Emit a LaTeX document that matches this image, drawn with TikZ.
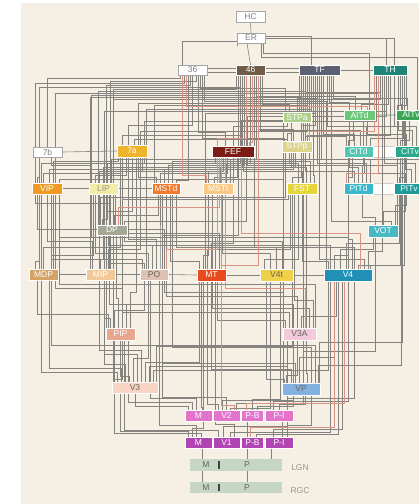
\documentclass[tikz,border=0pt]{standalone}
\usepackage{fontspec}
\setmainfont{Liberation Sans}
\definecolor{paper}{HTML}{F6F0E4}
\definecolor{linegray}{HTML}{85837F}
\definecolor{linered}{HTML}{DA9282}
\definecolor{c46}{HTML}{6E5C48}
\definecolor{cTF}{HTML}{5D6072}
\definecolor{cTH}{HTML}{1E8478}
\definecolor{cSTPa}{HTML}{ACD08A}
\definecolor{cAITd}{HTML}{6CC878}
\definecolor{cAITv}{HTML}{3AA655}
\definecolor{c7a}{HTML}{F0B42C}
\definecolor{cFEF}{HTML}{7C1C16}
\definecolor{cSTPp}{HTML}{DCD48A}
\definecolor{cCITd}{HTML}{52C8B4}
\definecolor{cCITv}{HTML}{2AA88C}
\definecolor{cVIP}{HTML}{F09A22}
\definecolor{cLIP}{HTML}{F2ECA8}
\definecolor{cMSTd}{HTML}{F07A2C}
\definecolor{cMSTl}{HTML}{F8C884}
\definecolor{cFST}{HTML}{E6D63A}
\definecolor{cPITd}{HTML}{3AB8CC}
\definecolor{cPITv}{HTML}{1F9A9A}
\definecolor{cDP}{HTML}{A4A696}
\definecolor{cVOT}{HTML}{48B8C4}
\definecolor{cMDP}{HTML}{D4A264}
\definecolor{cMIP}{HTML}{F2C896}
\definecolor{cPO}{HTML}{DDC2B2}
\definecolor{cMT}{HTML}{E84A1E}
\definecolor{cVt}{HTML}{F0D048}
\definecolor{cVf}{HTML}{2090B6}
\definecolor{cPIP}{HTML}{E8A68E}
\definecolor{cVtA}{HTML}{F2CADB}
\definecolor{cVth}{HTML}{F8D4C4}
\definecolor{cVP}{HTML}{84B2E0}
\definecolor{cVtwo}{HTML}{E274CC}
\definecolor{cVone}{HTML}{B044B2}
\definecolor{cLGN}{HTML}{C6D6C6}
\definecolor{tdark}{HTML}{6A6258}
\definecolor{tgray}{HTML}{9A948A}
\pgfdeclarelayer{paperlayer}
\pgfdeclarelayer{lines}
\pgfsetlayers{paperlayer,lines,main}
\newcommand\bx[7]{\node[box,fill=#5,text=#6,minimum width=#3pt,minimum height=#4pt] (#1) at (#2) {#7};}
\begin{document}
\begin{tikzpicture}[x=1pt,y=-1pt,
  box/.style={rectangle,inner sep=0pt,draw=white,line width=0.3pt,font=\fontsize{8.5}{9}\selectfont},
  wbox/.style={box,fill=white,draw=gray!70,text=gray},
  ln/.style={draw=linegray,line width=0.6pt},
  rl/.style={draw=linered,line width=0.6pt},
  lbl/.style={inner sep=0pt,font=\fontsize{8.5}{9}\selectfont}]
\useasboundingbox (0,0) rectangle (419,504);
\clip (0,0) rectangle (419,504);
\begin{pgfonlayer}{paperlayer}
\fill[white] (0,0) rectangle (419,504);
\fill[paper] (21,3) rectangle (419,504);
\end{pgfonlayer}
% nodes
\node[wbox,minimum width=29pt,minimum height=11pt] (HC) at (250.5,16.5) {HC};
\node[wbox,minimum width=28pt,minimum height=10pt] (ER) at (251,38) {ER};
\node[wbox,minimum width=29pt,minimum height=10pt] (A36) at (192.5,70) {36};
\bx{A46}{250.5,70}{29}{10}{c46}{white}{46}
\bx{TF}{319.5,70}{41}{10}{cTF}{white}{TF}
\bx{TH}{390,70}{34}{10}{cTH}{white}{TH}
\bx{STPa}{297,117.5}{28}{10}{cSTPa}{white}{STPa}
\bx{AITd}{359.5,115}{31}{10}{cAITd}{white}{AITd}
\bx{AITv}{411,115}{30}{10}{cAITv}{white}{AITv}
\node[wbox,minimum width=29pt,minimum height=10pt] (A7b) at (47.5,152) {7b};
\bx{A7a}{132,151}{30}{12}{c7a}{white}{7a}
\bx{FEF}{233,151.5}{42}{11}{cFEF}{white}{FEF}
\bx{STPp}{297,146.5}{30}{11}{cSTPp}{white}{STPp}
\bx{CITd}{358.5,151.5}{29}{11}{cCITd}{white}{CITd}
\bx{CITv}{410,151.5}{30}{11}{cCITv}{white}{CITv}
\bx{VIP}{47,188.5}{30}{11}{cVIP}{white}{VIP}
\bx{LIP}{103.5,188.5}{29}{11}{cLIP}{tgray}{LIP}
\bx{MSTd}{166,188.5}{28}{11}{cMSTd}{white}{MSTd}
\bx{MSTl}{218,188.5}{30}{11}{cMSTl}{white}{MSTl}
\bx{FST}{302,188.5}{30}{11}{cFST}{white}{FST}
\bx{PITd}{358.5,188.5}{29}{11}{cPITd}{white}{PITd}
\bx{PITv}{409,188.5}{30}{11}{cPITv}{white}{PITv}
\bx{DP}{112,230}{30}{10}{cDP}{white}{DP}
\bx{VOT}{383,231}{30}{12}{cVOT}{white}{VOT}
\bx{MDP}{43.5,274.5}{29}{11}{cMDP}{white}{MDP}
\bx{MIP}{100.5,274.5}{29}{11}{cMIP}{white}{MIP}
\bx{PO}{154,274.5}{28}{11}{cPO}{tdark}{PO}
\bx{MT}{211.5,275}{29}{12}{cMT}{white}{MT}
\bx{V4t}{276.5,275}{33}{12}{cVt}{tdark}{V4t}
\bx{V4}{348,275}{48}{12}{cVf}{white}{V4}
\bx{PIP}{120.5,334}{29}{12}{cPIP}{white}{PIP}
\bx{V3A}{299.5,334}{33}{12}{cVtA}{tdark}{V3A}
\bx{V3}{135,387.5}{46}{11}{cVth}{tdark}{V3}
\bx{VP}{301,389}{38}{12}{cVP}{tdark}{VP}
\bx{V2M}{198.5,415.5}{27}{11}{cVtwo}{white}{M}
\bx{V2}{226.5,415.5}{27}{11}{cVtwo}{white}{V2}
\bx{V2PB}{252.5,415.5}{22}{11}{cVtwo}{white}{P-B}
\bx{V2PI}{279,415.5}{28}{11}{cVtwo}{white}{P-I}
\bx{V1M}{198.5,442.5}{27}{11}{cVone}{white}{M}
\bx{V1}{226.5,442.5}{27}{11}{cVone}{white}{V1}
\bx{V1PB}{252.5,442.5}{22}{11}{cVone}{white}{P-B}
\bx{V1PI}{279,442.5}{28}{11}{cVone}{white}{P-I}
\node[box,fill=cLGN,draw=none,minimum width=92pt,minimum height=12pt] (LGN) at (236,465) {};
\node[box,fill=cLGN,draw=none,minimum width=92pt,minimum height=11pt] (RGC) at (236,487.5) {};
\node[lbl,text=tdark] (lgnM) at (206,465) {M};
\node[lbl,text=tdark] (lgnP) at (247,465) {P};
\node[lbl,text=tdark] (rgcM) at (206,487.5) {M};
\node[lbl,text=tdark] (rgcP) at (247,487.5) {P};
\node[lbl,text=tgray] (lgnT) at (300,468) {LGN};
\node[lbl,text=tgray] (rgcT) at (300,491) {RGC};
\draw[line width=1.6pt,black!75] ([xshift=-17pt,yshift=-2pt]LGN.north) -- ([xshift=-17pt,yshift=2pt]LGN.south);
\draw[line width=1.6pt,black!75] ([xshift=-17pt,yshift=-2pt]RGC.north) -- ([xshift=-17pt,yshift=2pt]RGC.south);
% connectors
\begin{pgfonlayer}{lines}
\draw[fill=white!85!paper,draw=gray!40] (CITd.north east) rectangle (CITv.south west);
\draw[fill=white!85!paper,draw=gray!40] (PITd.north east) rectangle (PITv.south west);
\draw[cAITd!60,line width=1.2pt] (AITd.east) -- (AITv.west);
% straight links
\draw[ln] ([xshift=-34pt]LGN.north) -- ([xshift=-34pt]LGN.north |- V1M.south);
\draw[ln] ([xshift=11pt]LGN.north) -- ([xshift=11pt]LGN.north |- V1PB.south);
\draw[ln] ([xshift=35pt]LGN.north) -- ([xshift=35pt]LGN.north |- V1PI.south);
\draw[ln] ([xshift=-34pt]RGC.north) -- ([xshift=-34pt]RGC.north |- LGN.south);
\draw[ln] ([xshift=11pt]RGC.north) -- ([xshift=11pt]RGC.north |- LGN.south);
\draw[ln] ([xshift=-5pt]V1PB.north) -- ([xshift=-5pt]V2PB.south);
\draw[ln] ([xshift=3pt]V1PI.north) -- ([xshift=3pt]V2PI.south);
\draw[ln] (HC.south) -- (ER.north);
\draw[ln] ([xshift=-4pt]ER.south) -- ([xshift=0pt]A46.north);
\draw[ln] ([yshift=-2pt]A36.east) -- ([yshift=-2pt]A46.west);
\draw[ln] ([yshift=2pt]A36.east) -- ([yshift=2pt]A46.west);
\draw[ln] ([yshift=-2pt]A46.east) -- ([yshift=-2pt]TF.west);
\draw[ln] ([yshift=2pt]A46.east) -- ([yshift=2pt]TF.west);
\draw[ln] (TF.east) -- (TH.west);
\draw[ln] (A7b.east) -- (A7a.west);
\draw[ln] (VIP.east) -- (LIP.west);
\draw[ln] (LIP.east) -- (MSTd.west);
\draw[ln] (MDP.east) -- (MIP.west);
\draw[ln] (MIP.east) -- (PO.west);
\draw[ln] (PO.east) -- (MT.west);
\draw[ln] (MT.east) -- (V4t.west);
\draw[ln] (V4t.east) -- (V4.west);
\draw[ln] ([xshift=-10pt]A36.north) |- ([yshift=-8pt]ER.north west) -- ([yshift=-8pt]ER.west);
\draw[ln] ([xshift=-8pt]TF.north) |- ([xshift=4pt,yshift=7pt]ER.south) -- ([xshift=4pt]ER.south);
\draw[ln] ([xshift=-4pt]TH.north) |- ([xshift=8pt,yshift=5pt]ER.south) -- ([xshift=8pt]ER.south);
\draw[ln] ([xshift=4pt]TH.north) |- (ER.east);
% lower-level routed connectors: horizontal run just above source
\foreach \s/\a/\t/\b/\o in {
 V1M/-10/V3/-15/6, V1M/-6/MT/-8/9, V1M/-2/PO/5/12, V1M/3/PIP/-6/4,
 V1/-8/PIP/4/7, V1/-3/V3A/-12/11, V1/4/V4/-18/5, V1/8/MT/4/13,
 V1PB/4/V4/-10/3, V1PI/-6/V4/-6/8, V1PI/8/VP/10/12,
 V2M/-10/V3/0/4, V2M/-6/PIP/8/8, V2M/-2/PO/-4/12, V2M/4/MT/-10/3,
 V2/-8/MT/-4/6, V2/-4/V3A/-6/10, V2/0/MSTd/-4/13, V2/4/V4t/-6/2,
 V2PB/0/V4t/4/11, V2PB/5/VP/-8/4, V2PI/-6/V4/0/9, V2PI/0/VP/4/6, V2PI/8/V4/6/12,
 V2/10/TF/-16/7,
 V3/-18/VIP/-6/10, V3/-14/MDP/6/14, V3/-10/MIP/4/18, V3/-6/PIP/0/6, V3/-2/PO/-6/24,
 V3/2/DP/-8/28, V3/6/LIP/-4/32, V3/10/MT/-12/20, V3/14/V3A/-12/16, V3/18/V4/-20/12,
 V3/21/FST/-10/36, V3/-21/A7a/-10/3,
 VP/-15/V3A/-2/8, VP/-10/MT/0/14, VP/-6/PO/8/20, VP/-2/V4/-14/26, VP/2/VOT/-8/32,
 VP/6/FST/4/10, VP/10/MSTd/6/36, VP/14/VIP/4/38, VP/-17/V4t/-10/4, VP/17/PITv/-8/18,
 VP/18/TH/12/41,
 PIP/-10/MIP/4/10, PIP/-6/PO/-10/18, PIP/-2/DP/4/30, PIP/2/VIP/8/40, PIP/6/LIP/6/24,
 PIP/10/A7a/4/36, PIP/-12/MDP/-6/14,
 V3A/-14/MT/6/8, V3A/-10/DP/10/16, V3A/-6/LIP/10/24, V3A/-2/MSTd/0/32, V3A/2/V4/-12/12,
 V3A/10/MSTl/-6/20, V3A/14/FST/-8/28, V3A/-16/PO/10/36, V3A/16/VIP/12/44,
 PO/-10/MIP/8/6, PO/-6/LIP/-8/16, PO/-2/DP/-4/24, PO/2/A7a/-4/30, PO/6/MSTd/-6/12,
 PO/10/VIP/-10/40, PO/-12/MDP/8/10, PO/8/A46/-12/34,
 MDP/-8/VIP/-8/8, MDP/0/A7a/-12/22, MDP/8/LIP/-10/14,
 MIP/-8/VIP/0/28, MIP/0/LIP/0/10, MIP/8/A7a/8/20,
 MT/-12/MSTd/4/8, MT/-8/MSTl/-10/14, MT/-4/FST/-12/20, MT/0/FEF/0/26, MT/4/VIP/12/32,
 MT/8/LIP/12/36,
 V4t/-12/FST/-4/10, V4t/-6/MSTl/4/16, V4t/0/MSTd/10/22, V4t/6/DP/12/28,
 V4/-20/FST/0/8, V4/-14/PITd/-10/14, V4/-8/VOT/-10/20, V4/-2/PITv/-10/26, V4/4/CITd/-10/30,
 V4/10/CITv/-10/4, V4/16/TF/0/10, V4/20/TH/-8/18, V4/-18/DP/8/24, V4/0/LIP/-12/32,
 V4/6/A46/4/22, V4/22/TH/14/4,
 DP/-10/LIP/4/6, DP/-6/A7a/0/14, DP/-2/VIP/-12/22, DP/2/MSTd/-8/10, DP/10/FST/-14/26,
 DP/12/A46/-4/4, DP/-12/STPp/-12/28,
 VOT/-8/PITd/4/8, VOT/0/PITv/-4/14, VOT/8/TF/12/4, VOT/12/CITv/-4/20,
 VIP/-10/A7b/-8/6, VIP/-4/A7a/-12/10, VIP/2/FEF/-16/14, VIP/6/A46/-10/20, VIP/12/STPp/-14/4,
 LIP/-8/A7a/-6/8, LIP/-4/FEF/-10/12, LIP/0/A46/-8/16, LIP/4/STPp/-8/20, LIP/8/TF/-18/24,
 LIP/-12/A7b/4/18,
 MSTd/-10/A7a/6/6, MSTd/-6/FEF/-6/10, MSTd/-2/STPp/-4/14, MSTd/2/A46/-6/18, MSTd/6/TF/-14/22,
 MSTd/10/A36/-4/3,
 MSTl/-10/A7a/10/12, MSTl/-4/FEF/4/6, MSTl/2/STPp/-2/16, MSTl/8/A46/0/20, MSTl/12/TF/-10/24,
 FST/-10/STPp/4/6, FST/-4/A7a/12/20, FST/0/FEF/10/12, FST/4/STPa/-6/16, FST/8/A46/4/22,
 FST/12/TF/-6/8,
 PITd/-10/CITd/-6/6, PITd/-4/STPp/8/12, PITd/0/AITd/-10/16, PITd/4/FEF/14/18, PITd/8/TF/-2/20,
 PITd/12/A46/6/24,
 PITv/-10/CITv/-6/6, PITv/-4/CITd/6/10, PITv/2/AITv/-6/14, PITv/6/TH/-6/20, PITv/10/TF/2/24,
 PITv/-12/AITd/4/18,
 A7a/-10/A46/-8/10, A7a/-4/A36/0/20, A7a/2/STPp/-10/6, A7a/8/TF/-12/14, A7a/12/TH/-14/24,
 FEF/-8/A36/6/14, FEF/0/STPa/-10/20, FEF/8/TF/-8/26, FEF/14/TH/-4/30,
 STPp/-10/STPa/-6/8, STPp/-4/A46/8/12, STPp/4/TF/-4/16, STPp/10/TH/0/6, STPp/-13/A36/10/3,
 CITd/-10/AITd/-6/6, CITd/-4/TF/4/12, CITd/2/A46/10/16, CITd/8/TH/4/20, CITd/12/AITv/-8/8,
 CITd/-12/STPa/8/10,
 CITv/-10/AITv/-2/6, CITv/-4/AITd/8/12, CITv/2/TH/8/16, CITv/6/TF/8/20,
 STPa/-8/A46/12/8, STPa/0/TF/-2/14, STPa/8/TH/-10/20, STPa/-12/A36/8/24,
 AITd/-10/TF/10/8, AITd/-4/A46/6/14, AITd/2/TH/-2/6,
 AITv/-10/TH/10/6, AITv/-4/TF/14/12}
 {\draw[ln] ([xshift=\a pt]\s.north) -- ++(0,\o pt) -| ([xshift=\b pt]\t.south);}
% routed connectors: horizontal run just below target
\foreach \s/\a/\t/\b/\o in {
 A7b/0/A36/-12/3, VIP/-12/A36/-8/8, MDP/-4/A46/-10/12, LIP/-12/A46/-6/20, MIP/-10/TF/-18/22,
 DP/-14/TF/-14/16, MSTd/-12/TF/-12/30, VIP/8/TH/-12/18, LIP/10/TH/-10/24, A7a/6/TH/-16/28,
 MIP/10/A36/4/6, PIP/-14/A36/-2/10, V3/-22/A46/-14/14, PO/-8/TF/-8/34, DP/-8/TH/-4/36,
 MT/-6/TF/-4/38, VIP/-6/FEF/-18/6, MDP/10/A7a/-14/4, AITd/10/ER/12/10, AITv/6/ER/10/14,
 VP/-18/TF/-20/40, VOT/14/TH/16/30, V4/-22/A36/12/26}
 {\draw[ln] ([xshift=\a pt]\s.north) |- ([xshift=\b pt,yshift=-\o pt]\t.south) -- ([xshift=\b pt]\t.south);}
% red connectors
\foreach \s/\a/\t/\b/\o in {
 MT/10/A46/8/4, V3A/6/FEF/-8/40, PO/12/FEF/-16/20, V4/12/FEF/8/36, DP/6/FEF/-14/18,
 FEF/-16/A46/-4/8, FEF/16/A46/2/4, V2/8/FEF/-12/5, PITd/-12/TH/-12/10, V2PB/-6/V4/-4/7,
 AITd/8/A36/-6/4, V1PB/-2/V4/-14/10, STPp/12/TH/-16/10, MSTl/-12/A36/-10/8}
 {\draw[rl] ([xshift=\a pt]\s.north) -- ++(0,\o pt) -| ([xshift=\b pt]\t.south);}
\end{pgfonlayer}
\end{tikzpicture}
\end{document}
